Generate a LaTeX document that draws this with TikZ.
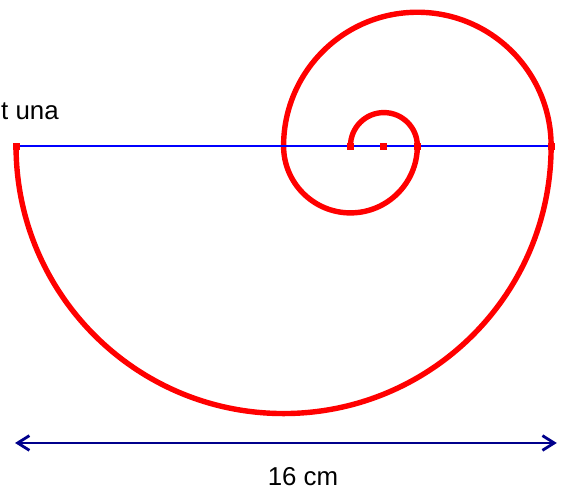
\documentclass[tikz,border=0pt]{standalone}
\usepackage{fontspec}
\setmainfont{Liberation Sans}
\usetikzlibrary{arrows.meta}
\definecolor{navyline}{RGB}{0,0,140}

\begin{document}
\begin{tikzpicture}[
      spiral/.style={red, line width=4.6pt},
      axisline/.style={blue, line width=1.6pt},
      dimline/.style={navyline, line width=2.4pt,
        {Straight Barb[length=3.5mm,width=4.4mm]}-{Straight Barb[length=3.5mm,width=4.4mm]}},
      sqmark/.style={fill=red, minimum size=2.1mm, inner sep=0pt},
      txt/.style={font=\fontsize{22}{26}\selectfont}
    ]

    \useasboundingbox (-11.48,-10.35) rectangle (5.385,4.366);

    % Spiral of half circles, radii 1, 2, 4, 8
    \draw[spiral] (-1,0)
      arc[start angle=180, end angle=0, radius=1]
      arc[start angle=0, end angle=-180, radius=2]
      arc[start angle=180, end angle=0, radius=4]
      arc[start angle=0, end angle=-180, radius=8];

    % Base line and points on it
    \coordinate (pA) at (-11,0);
    \coordinate (pB) at (-1,0);
    \coordinate (pO) at (0,0);
    \coordinate (pC) at (1,0);
    \coordinate (pD) at (5,0);
    \draw[axisline] (pA) -- (pD);
    \foreach \p in {pA,pB,pO,pC,pD}
      \node[sqmark] at (\p) {};

    % Text cut at the left border
    \node[txt, anchor=base east] (head) at (-9.6,0.78) {t una};

    % Dimension
    \coordinate (dimL) at (-11.03,-8.88);
    \coordinate (dimR) at (5.17,-8.88);
    \draw[dimline] (dimL) -- (dimR);
    \node[txt] (dimtext) at (-2.42,-9.9) {16 cm};

  \end{tikzpicture}
\end{document}
